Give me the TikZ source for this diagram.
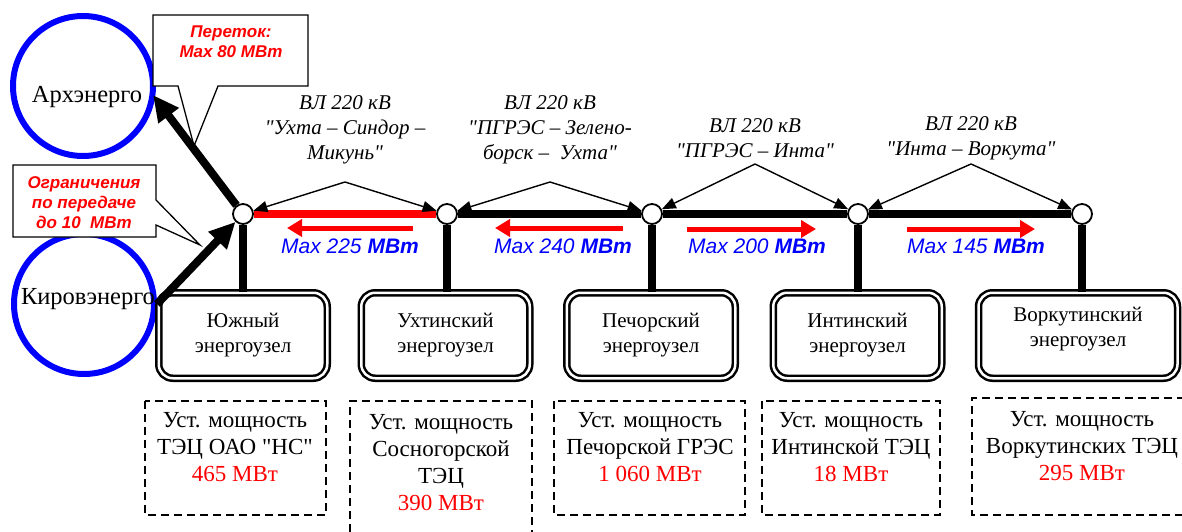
\documentclass[tikz,border=0pt]{standalone}
\usepackage{fontspec}
\setmainfont{Liberation Serif}[Ligatures=TeXOff]
\newfontfamily\arialf{Liberation Sans}
\usetikzlibrary{arrows.meta}
\definecolor{pblue}{RGB}{0,0,255}
\definecolor{pred}{RGB}{255,0,0}
\begin{document}
\begin{tikzpicture}[x=1pt,y=-1pt,
  region/.style={circle, draw=pblue, line width=6pt, minimum size=140pt, inner sep=0pt},
  regtext/.style={font=\fontsize{24.5}{28}\selectfont, inner sep=0pt},
  bus/.style={circle, draw=black, fill=white, line width=1.8pt, minimum size=20pt, inner sep=0pt},
  hub/.style={draw, double=white, double distance=2.5pt, line width=2.5pt, fill=white,
              rounded corners=14pt, minimum width=168.5pt, minimum height=85.5pt},
  hubtext/.style={align=center, font=\fontsize{21}{25}\selectfont, inner sep=0pt},
  captext/.style={align=center, font=\fontsize{23}{27}\selectfont, inner sep=0pt},
  capframe/.style={draw, line width=2.6pt, dash pattern=on 8pt off 5pt},
  vltext/.style={align=center, font=\fontsize{21}{25}\selectfont\itshape, inner sep=0pt},
  maxtext/.style={text=pblue, font=\fontsize{21}{24}\selectfont\arialf\itshape, inner sep=0pt},
  calltext/.style={align=center, text=pred, font=\fontsize{17}{20}\selectfont\arialf\bfseries\itshape, inner sep=0pt},
  callout/.style={draw, fill=white, line width=1.3pt},
  busline/.style={line width=8pt},
  redbus/.style={line width=8pt, draw=pred},
  drop/.style={line width=8pt},
  big/.style={line width=8pt, -{Triangle[length=26pt,width=24pt]}},
  ptr/.style={line width=1.4pt, -{Triangle[length=14pt,width=11pt]}},
  flow/.style={draw=pred, line width=5pt, -{Triangle[length=15pt,width=17pt]}}
]
\useasboundingbox (0,0) rectangle (1182,532);

% external systems
\node[region] (arh) at (83,86) {};
\node[regtext] (arht) at (87,97) {Архэнерго};
\node[region] (kir) at (84,304) {};
\node[regtext] (kirt) at (88,299) {Кировэнерго};

% callouts
\draw[callout] (153,15) -- (308,15) -- (308,86) -- (218,86) -- (194,146) -- (178,86) -- (153,86) -- cycle;
\node[calltext] (co1) at (231,42) {Переток:\\Max 80 MBm};
\draw[callout] (13,165) -- (156,165) -- (156,200) -- (200,245) -- (156,225) -- (156,237) -- (13,237) -- cycle;
\node[calltext] (co2) at (84,203) {Ограничения\\по передаче\\до 10\ \ MBm};

% hubs
\node[hub, hubtext] (h1) at (243,335.5) {Южный\\энергоузел};
\node[hub, hubtext] (h2) at (445.5,335.5) {Ухтинский\\энергоузел};
\node[hub, hubtext] (h3) at (651,335.5) {Печорский\\энергоузел};
\node[hub, hubtext] (h4) at (857.5,335.5) {Интинский\\энергоузел};
\node[hub, minimum width=199pt] (h5) at (1078,335.5) {};
\node[hubtext] (h5t) at (1078,329.5) {Воркутинский\\энергоузел};

% bus nodes
\node[bus] (n1) at (243,214) {};
\node[bus] (n2) at (447,214) {};
\node[bus] (n3) at (652,214) {};
\node[bus] (n4) at (858,214) {};
\node[bus] (n5) at (1082,214) {};

\draw[redbus] (n1) -- (n2);
\draw[busline] (n2) -- (n3);
\draw[busline] (n3) -- (n4);
\draw[busline] (n4) -- (n5);

\draw[drop] (n1) -- (n1 |- h1.north);
\draw[drop] (n2) -- (n2 |- h2.north);
\draw[drop] (n3) -- (n3 |- h3.north);
\draw[drop] (n4) -- (n4 |- h4.north);
\draw[drop] (n5) -- (n5 |- h5.north);

% capacity boxes
\draw[capframe] (145,401) rectangle (326,515);
\draw[capframe] (350,532) -- (350,401) -- (532,401) -- (532,532);
\draw[capframe] (554,401) rectangle (745,515);
\draw[capframe] (762,401) rectangle (940,515);
\draw[capframe] (1185,398) -- (972,398) -- (972,515) -- (1185,515);
\node[captext] (c1) at (235,447) {Уст. мощность\\ТЭЦ ОАО "НС"\\\textcolor{pred}{465 МВт}};
\node[captext] (c2) at (441,463) {Уст. мощность\\Сосногорской\\ТЭЦ\\\textcolor{pred}{390 МВт}};
\node[captext] (c3) at (650,447) {Уст. мощность\\Печорской ГРЭС\\\textcolor{pred}{1 060 МВт}};
\node[captext] (c4) at (851,447) {Уст. мощность\\Интинской ТЭЦ\\\textcolor{pred}{18 МВт}};
\node[captext] (c5) at (1082,446) {Уст. мощность\\Воркутинских ТЭЦ\\\textcolor{pred}{295 МВт}};

% line labels
\node[vltext] (l1) at (345,130) {ВЛ 220 кВ\\"Ухта – Синдор –\\Микунь"};
\node[vltext] (l2) at (550,130) {ВЛ 220 кВ\\"ПГРЭС – Зелено-\\борск –\ \ Ухта"};
\node[vltext] (l3) at (755,138.5) {ВЛ 220 кВ\\"ПГРЭС – Инта"};
\node[vltext] (l4) at (971,138.5) {ВЛ 220 кВ\\"Инта – Воркута"};
\coordinate (a1) at (345,182);
\coordinate (a2) at (550,182);
\coordinate (a3) at (755,164);
\coordinate (a4) at (971,164);
\draw[ptr] (a1) -- (n1);
\draw[ptr] (a1) -- (n2);
\draw[ptr] (a2) -- (n2);
\draw[ptr] (a2) -- (n3);
\draw[ptr] (a3) -- (n3);
\draw[ptr] (a3) -- (n4);
\draw[ptr] (a4) -- (n4);
\draw[ptr] (a4) -- (n5);

% flow arrows
\coordinate (f1s) at (413,228); \coordinate (f1e) at (287,228);
\coordinate (f2s) at (623,228); \coordinate (f2e) at (495,228);
\coordinate (f3s) at (687,229); \coordinate (f3e) at (816,229);
\coordinate (f4s) at (907,229); \coordinate (f4e) at (1035,229);
\draw[flow] (f1s) -- (f1e);
\draw[flow] (f2s) -- (f2e);
\draw[flow] (f3s) -- (f3e);
\draw[flow] (f4s) -- (f4e);
\node[maxtext] (m1) at (350,246) {Max 225 {\bfseries MBm}};
\node[maxtext] (m2) at (563,246) {Max 240 {\bfseries MBm}};
\node[maxtext] (m3) at (757,246) {Max 200 {\bfseries MBm}};
\node[maxtext] (m4) at (976,246) {Max 145 {\bfseries MBm}};

% exchange arrows
\coordinate (arhin) at (153,95);
\draw[big] (n1) -- (arhin);
\draw[big] (kir.east) -- (n1);
\end{tikzpicture}
\end{document}
